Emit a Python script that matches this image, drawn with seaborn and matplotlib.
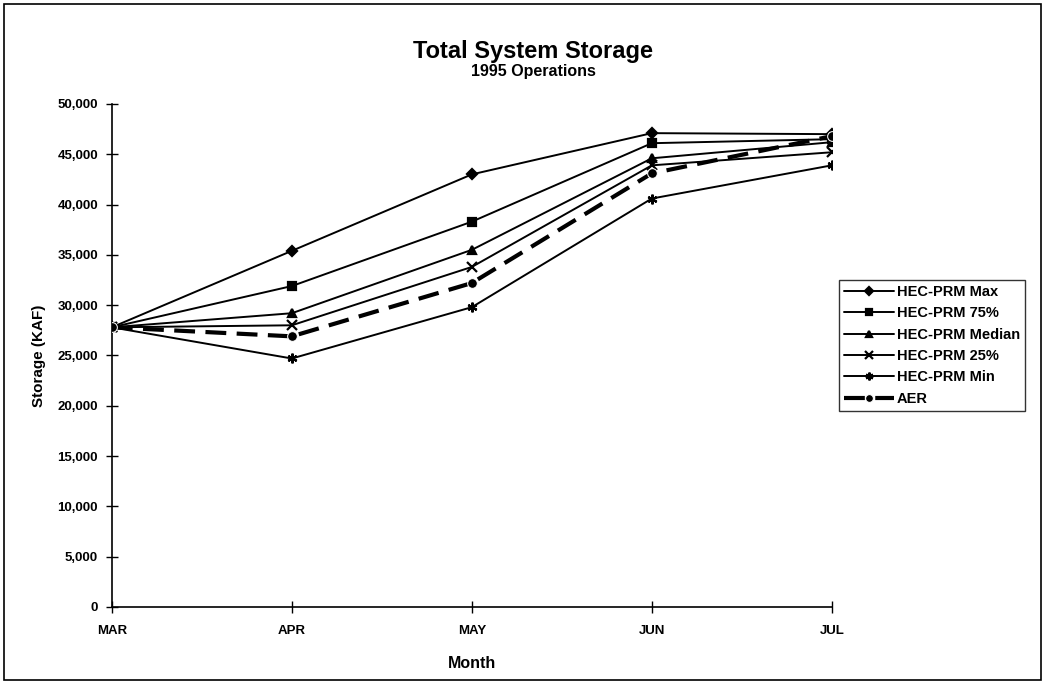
import matplotlib
matplotlib.use("Agg")
import matplotlib.pyplot as plt
import matplotlib.patches as patches
from matplotlib.ticker import FuncFormatter
import pandas as pd
import seaborn as sns

months = ["MAR", "APR", "MAY", "JUN", "JUL"]
hec_max = [27800, 35400, 43000, 47100, 47000]
hec_75 = [27800, 31900, 38300, 46100, 46500]
hec_median = [27800, 29200, 35500, 44600, 46200]
hec_25 = [27800, 28000, 33800, 43900, 45200]
hec_min = [27800, 24700, 29800, 40600, 43900]
aer = [27800, 26900, 32200, 43100, 46800]

series_names = ["HEC-PRM Max", "HEC-PRM 75%", "HEC-PRM Median",
                "HEC-PRM 25%", "HEC-PRM Min", "AER"]
series_values = [hec_max, hec_75, hec_median, hec_25, hec_min, aer]
markers = ["D", "s", "^", "x", (6, 2, 0), "o"]

rows = []
for name, vals in zip(series_names, series_values):
    for i, v in enumerate(vals):
        rows.append({"series": name, "month": i, "storage": v})
df = pd.DataFrame(rows)

sns.set_style("white", {"text.color": "black", "axes.labelcolor": "black",
                        "xtick.color": "black", "ytick.color": "black",
                        "xtick.bottom": True, "ytick.left": True})
plt.rcParams["font.family"] = ["Liberation Sans", "DejaVu Sans"]

fig = plt.figure(figsize=(10.45, 6.84), dpi=100)
ax = fig.add_axes([0.107, 0.1126, 0.689, 0.7354])

for name, m in zip(series_names, markers):
    d = df[df["series"] == name]
    if name == "AER":
        sns.lineplot(data=d, x="month", y="storage", ax=ax, color="black",
                     lw=3, marker=m, markersize=7, label=name,
                     dashes=False, linestyle=(0, (5, 2.5)), zorder=3)
    else:
        ms = 7 if m in ("x", (6, 2, 0)) else 5.5
        sns.lineplot(data=d, x="month", y="storage", ax=ax, color="black",
                     lw=1.4, marker=m, markersize=ms, markeredgewidth=1.6,
                     markeredgecolor="black", label=name, zorder=2)

ax.set_xlim(0, len(months) - 1)
ax.set_ylim(0, 50000)
ax.set_xticks(range(len(months)))
ax.set_xticklabels(months)
ax.set_yticks(range(0, 50001, 5000))
ax.yaxis.set_major_formatter(FuncFormatter(lambda v, p: f"{int(v):,}"))
for lab in ax.get_xticklabels() + ax.get_yticklabels():
    lab.set_fontweight("bold")
    lab.set_fontsize(9.5)
ax.tick_params(axis="both", direction="inout", length=8, width=1,
               colors="black", pad=6, bottom=True, left=True)
ax.tick_params(axis="x", pad=9)
sns.despine(ax=ax)
ax.spines["left"].set_color("black")
ax.spines["bottom"].set_color("black")
ax.spines["left"].set_linewidth(1.2)
ax.spines["bottom"].set_linewidth(1.2)

ax.set_xlabel("Month", fontsize=11.5, fontweight="bold", labelpad=14)
ax.set_ylabel("Storage (KAF)", fontsize=11, fontweight="bold", labelpad=8)

fig.text(0.51, 0.925, "Total System Storage", ha="center", va="center",
         fontsize=17, fontweight="bold")
fig.text(0.51, 0.895, "1995 Operations", ha="center", va="center",
         fontsize=11.5, fontweight="bold")

leg = ax.legend(loc="center left", bbox_to_anchor=(1.01, 0.52),
                fontsize=10.5, handlelength=3.4, frameon=True, fancybox=False,
                borderpad=0.35, labelspacing=0.5, handletextpad=0.2,
                borderaxespad=0, markerscale=0.8)
leg.get_frame().set_edgecolor("black")
leg.get_frame().set_linewidth(1)
for t in leg.get_texts():
    t.set_fontweight("bold")

fig.patches.append(patches.Rectangle((0.004, 0.006), 0.992, 0.988,
                                     transform=fig.transFigure, fill=False,
                                     edgecolor="black", lw=1.2))

fig.savefig("out.png", dpi=100)
